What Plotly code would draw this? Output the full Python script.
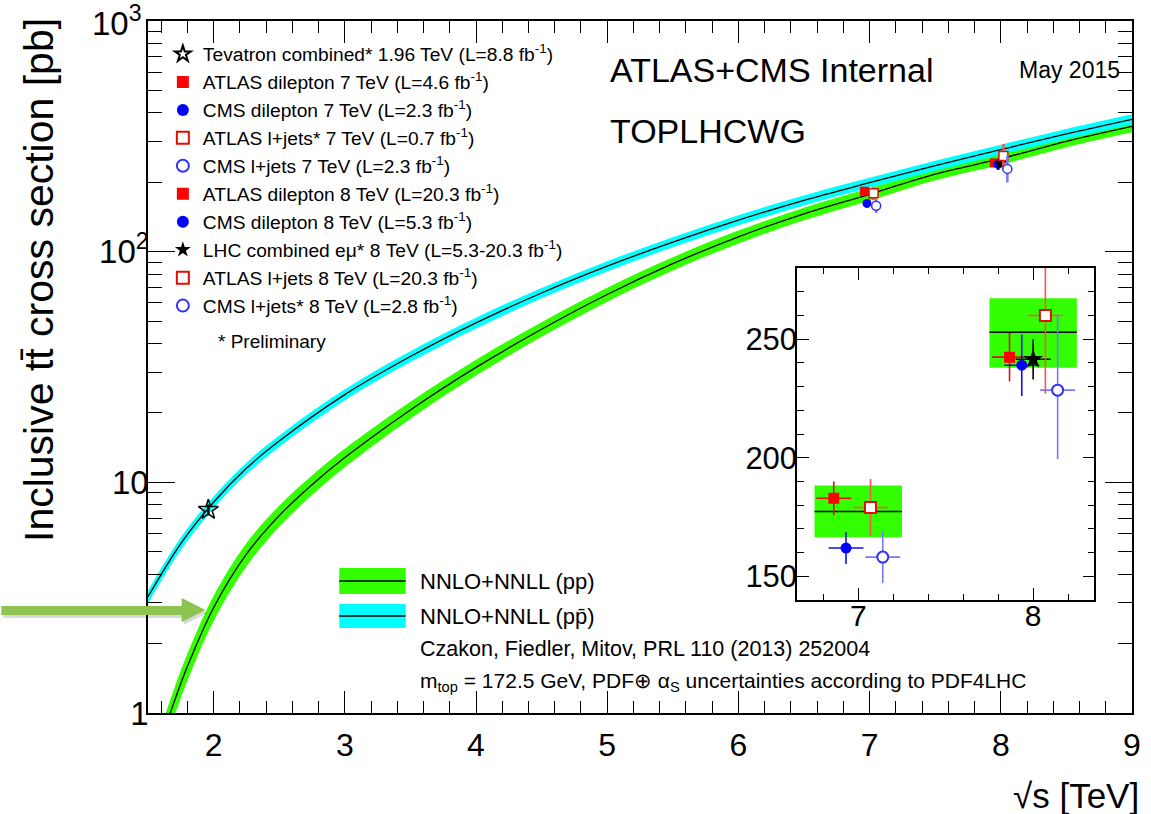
import plotly.graph_objects as go

FONT = "Liberation Sans, Arial, Helvetica, sans-serif"

# ---------------- NNLO+NNLL theory predictions (pb) ----------------
pp_sqrt_s = [1.6, 1.7, 1.8, 2.0, 2.25, 2.5, 2.75, 3.0, 3.5, 4.0, 4.5, 5.0, 5.5, 6.0, 6.5, 7.0, 7.5, 8.0, 8.5, 9.0]
pp_xsec = [0.76, 1.12, 1.59, 2.86, 4.88, 7.17, 9.76, 12.8, 20.6, 31.5, 46.1, 65.2, 88.7, 116.0, 146.0, 177.3, 217.0, 252.9, 301.0, 349.0]
pp_unc_pct = [15.0, 14.0, 13.5, 12.5, 11.5, 10.5, 9.8, 9.2, 8.4, 7.8, 7.3, 6.9, 6.6, 6.4, 6.3, 6.2, 6.0, 5.8, 5.7, 5.6]

ppbar_sqrt_s = [1.5, 1.75, 2.0, 2.25, 2.5, 3.0, 3.5, 4.0, 4.5, 5.0, 5.5, 6.0, 6.5, 7.0, 7.5, 8.0, 8.5, 9.0]
ppbar_xsec = [3.19, 5.43, 8.20, 11.5, 15.1, 24.0, 35.1, 49.1, 66.2, 86.5, 110.0, 137.0, 167.0, 199.0, 236.0, 277.0, 324.0, 375.0]
ppbar_unc_pct = [6.5, 6.3, 6.0, 5.8, 5.7, 5.5, 5.4, 5.3, 5.2, 5.1, 5.0, 5.0, 5.0, 5.0, 5.0, 5.0, 5.0, 5.0]

# theory boxes shown in the zoomed panel
inset_theory_sqrt_s = [7.0, 8.0]
inset_theory_xsec = [177.3, 252.9]
inset_theory_up = [188.3, 267.2]
inset_theory_down = [166.5, 237.9]

# ---------------- measurements ----------------
meas_labels = [
    "Tevatron combined* 1.96 TeV (L=8.8 fb<sup>-1</sup>)",
    "ATLAS dilepton 7 TeV (L=4.6 fb<sup>-1</sup>)",
    "CMS dilepton 7 TeV (L=2.3 fb<sup>-1</sup>)",
    "ATLAS l+jets* 7 TeV (L=0.7 fb<sup>-1</sup>)",
    "CMS l+jets 7 TeV (L=2.3 fb<sup>-1</sup>)",
    "ATLAS dilepton 8 TeV (L=20.3 fb<sup>-1</sup>)",
    "CMS dilepton 8 TeV (L=5.3 fb<sup>-1</sup>)",
    "LHC combined eμ* 8 TeV (L=5.3-20.3 fb<sup>-1</sup>)",
    "ATLAS l+jets 8 TeV (L=20.3 fb<sup>-1</sup>)",
    "CMS l+jets* 8 TeV (L=2.8 fb<sup>-1</sup>)",
]
meas_sqrt_s = [1.96, 7, 7, 7, 7, 8, 8, 8, 8, 8]
meas_xsec = [7.60, 182.9, 161.9, 179.0, 158.1, 242.4, 239.0, 241.5, 260.0, 228.5]
meas_err_up = [0.41, 7.1, 6.7, 12.0, 11.0, 10.3, 13.0, 8.5, 33.0, 32.0]
meas_err_down = [0.41, 7.1, 6.7, 12.0, 11.0, 10.3, 13.0, 8.5, 33.0, 29.0]

# staggered drawing positions around the nominal energies
main_x = [1.96, 6.96, 6.98, 7.03, 7.05, 7.95, 7.98, 8.00, 8.02, 8.05]
inset_x = [None, 6.86, 6.93, 7.07, 7.14, 7.865, 7.935, 8.00, 8.07, 8.14]

# marker styles
symbols = ["star-open", "square", "circle", "square", "circle",
           "square", "circle", "star", "square", "circle"]
marker_colors = ["black", "#ff0000", "#0000ff", "#dd1100", "#3030ff",
                 "#ff0000", "#0000ff", "black", "#dd1100", "#3030ff"]
hollow = [False, False, False, True, True, False, False, False, True, True]
error_colors = ["black", "#e01010", "#1010e0", "#ff5050", "#7878ff",
                "#e01010", "#1010e0", "black", "#ff5050", "#7878ff"]

# y-axis decade labels
y_tickvals = [1, 10, 100, 1000]
y_ticktext = ["1", "10", "10<sup>2</sup>", "10<sup>3</sup>"]

GREEN = "#33ff00"
CYAN = "#00ffff"

# plot-area geometry (pixels) used for decorations placed in paper space
W, H = 1151, 814
ML, MR, MT, MB = 148, 10, 21, 101
PW, PH = W - ML - MR, H - MT - MB


def px(xp):
    return (xp - ML) / PW


def py(yp):
    return 1 - (yp - MT) / PH


fig = go.Figure()


def add_band(xs, ys, pct, color):
    lo = [v * (1 - p / 100) for v, p in zip(ys, pct)]
    hi = [v * (1 + p / 100) for v, p in zip(ys, pct)]
    fig.add_trace(go.Scatter(x=xs, y=lo, mode="lines", line=dict(width=0, shape="spline", color=color),
                             showlegend=False, hoverinfo="skip"))
    fig.add_trace(go.Scatter(x=xs, y=hi, mode="lines", line=dict(width=0, shape="spline", color=color),
                             fill="tonexty", fillcolor=color, showlegend=False, hoverinfo="skip"))


add_band(pp_sqrt_s, pp_xsec, pp_unc_pct, GREEN)
add_band(ppbar_sqrt_s, ppbar_xsec, ppbar_unc_pct, CYAN)
fig.add_trace(go.Scatter(x=pp_sqrt_s, y=pp_xsec, mode="lines",
                         line=dict(color="black", width=1.3, shape="spline"), showlegend=False))
fig.add_trace(go.Scatter(x=ppbar_sqrt_s, y=ppbar_xsec, mode="lines",
                         line=dict(color="black", width=1.3, shape="spline"), showlegend=False))

# theory boxes in the zoomed panel
for e, c, u, d in zip(inset_theory_sqrt_s, inset_theory_xsec, inset_theory_up, inset_theory_down):
    hw = 0.25
    fig.add_trace(go.Scatter(x=[e - hw, e + hw, e + hw, e - hw, e - hw], y=[d, d, u, u, d],
                             mode="lines", fill="toself", fillcolor=GREEN, line=dict(width=0),
                             xaxis="x2", yaxis="y2", showlegend=False, hoverinfo="skip"))
    fig.add_trace(go.Scatter(x=[e - hw, e + hw], y=[c, c], mode="lines",
                             line=dict(color="black", width=1.5),
                             xaxis="x2", yaxis="y2", showlegend=False, hoverinfo="skip"))


def marker_style(i, size, lw):
    if symbols[i].endswith("open"):
        return dict(symbol=symbols[i], size=size, color=marker_colors[i], line=dict(width=1.5))
    if hollow[i]:
        return dict(symbol=symbols[i], size=size, color="white",
                    line=dict(color=marker_colors[i], width=lw))
    return dict(symbol=symbols[i], size=size, color=marker_colors[i], line=dict(width=0))


# measurements
for i in range(len(meas_labels)):
    star = symbols[i].startswith("star")
    # main panel
    fig.add_trace(go.Scatter(
        x=[main_x[i]], y=[meas_xsec[i]], mode="markers",
        marker=marker_style(i, 15 if i == 0 else (11 if star else 9), 1.5),
        error_y=dict(type="data", symmetric=False, array=[meas_err_up[i]], arrayminus=[meas_err_down[i]],
                     color=error_colors[i], thickness=2.5, width=0),
        name=meas_labels[i], legendrank=i + 1, showlegend=(i == 0),
    ))
    if inset_x[i] is None:
        continue
    # zoomed panel
    fig.add_trace(go.Scatter(
        x=[inset_x[i]], y=[meas_xsec[i]], mode="markers",
        marker=marker_style(i, 15 if star else 11, 2),
        error_y=dict(type="data", symmetric=False, array=[meas_err_up[i]], arrayminus=[meas_err_down[i]],
                     color=error_colors[i], thickness=1.6, width=0),
        error_x=dict(type="constant", value=0.1, color=error_colors[i], thickness=1.6, width=0),
        xaxis="x2", yaxis="y2",
        name=meas_labels[i], legendrank=i + 1, showlegend=True,
    ))

minor_x = [round(1.6 + 0.2 * k, 1) for k in range(38)]
minor_x = [v for v in minor_x if v <= 9 and abs(v - round(v)) > 1e-6]
minor_y = [m * 10 ** d for d in range(3) for m in range(2, 10)]

axis_common = dict(showline=True, linecolor="black", linewidth=1.5, mirror="ticks",
                   ticks="inside", tickcolor="black", tickwidth=1, showgrid=False, zeroline=False)

fig.update_layout(
    width=W, height=H,
    margin=dict(l=ML, r=MR, t=MT, b=MB),
    paper_bgcolor="white", plot_bgcolor="white",
    font=dict(family=FONT, color="black"),
    xaxis=dict(range=[1.5, 9], tickmode="array", tickvals=[2, 3, 4, 5, 6, 7, 8, 9], ticklen=22,
               tickfont=dict(size=32), ticklabelstandoff=3,
               minor=dict(tickmode="array", tickvals=minor_x, ticks="inside", ticklen=12,
                          tickcolor="black", tickwidth=1, showgrid=False),
               **axis_common),
    # the top decade label is placed as an annotation (edge labels can be dropped by the axis)
    yaxis=dict(type="log", range=[0, 3], tickmode="array", tickvals=y_tickvals,
               ticktext=y_ticktext[:-1] + [""], ticklen=27,
               tickfont=dict(size=33), ticklabelstandoff=-9,
               minor=dict(tickmode="array", tickvals=minor_y, ticks="inside", ticklen=14,
                          tickcolor="black", tickwidth=1, showgrid=False),
               **axis_common),
    xaxis2=dict(domain=[px(803), px(1103)], anchor="y2", range=[6.65, 8.35], tickmode="array",
                tickvals=[7, 8], ticklen=12, tickfont=dict(size=30), ticklabelstandoff=-12,
                minor=dict(tickmode="array", tickvals=[6.8, 7.2, 7.4, 7.6, 7.8, 8.2], ticks="inside",
                           ticklen=6, tickcolor="black", tickwidth=1, showgrid=False),
                **axis_common),
    yaxis2=dict(domain=[py(600), py(268)], anchor="x2", range=[140, 280], tickmode="array",
                tickvals=[150, 200, 250], ticklen=12, tickfont=dict(size=31), ticklabelstandoff=-8,
                minor=dict(tickmode="array", tickvals=[160, 170, 180, 190, 210, 220, 230, 240, 260, 270],
                           ticks="inside", ticklen=7, tickcolor="black", tickwidth=1, showgrid=False),
                **axis_common),
    legend=dict(x=px(163), y=py(35), xanchor="left", yanchor="top", bgcolor="rgba(0,0,0,0)",
                font=dict(size=19.2, family=FONT), itemsizing="constant", traceorder="normal"),
    showlegend=True,
)

annotations = [
    dict(text=y_ticktext[-1], x=px(144), xref="paper", y=3, yref="y",
         xanchor="right", yanchor="middle", font=dict(size=33)),
    dict(text="Inclusive tt̄ cross section [pb]", x=px(38), y=py(16), textangle=-90,
         xanchor="center", yanchor="top", font=dict(size=41)),
    dict(text="√s [TeV]", x=px(1150), y=py(795), xanchor="right", yanchor="middle", font=dict(size=35)),
    dict(text="ATLAS+CMS Internal", x=px(612), y=py(70), xanchor="left", yanchor="middle", font=dict(size=34)),
    dict(text="TOPLHCWG", x=px(612), y=py(131), xanchor="left", yanchor="middle", font=dict(size=34)),
    dict(text="May 2015", x=px(1131), y=py(70), xanchor="right", yanchor="middle", font=dict(size=23)),
    dict(text="* Preliminary", x=px(217), y=py(341), xanchor="left", yanchor="middle", font=dict(size=19)),
    dict(text="NNLO+NNLL (pp)", x=px(420), y=py(581), xanchor="left", yanchor="middle", font=dict(size=22)),
    dict(text="NNLO+NNLL (pp̄)", x=px(420), y=py(616), xanchor="left", yanchor="middle", font=dict(size=22)),
    dict(text="Czakon, Fiedler, Mitov, PRL 110 (2013) 252004", x=px(420), y=py(649),
         xanchor="left", yanchor="middle", font=dict(size=21.5)),
    dict(text="m<sub>top</sub> = 172.5 GeV, PDF⊕ α<sub>S</sub> uncertainties according to PDF4LHC",
         x=px(420), y=py(682), xanchor="left", yanchor="middle", font=dict(size=21)),
]
for a in annotations:
    a.setdefault("xref", "paper")
    a.setdefault("yref", "paper")
    a["showarrow"] = False
fig.update_layout(annotations=annotations)


def poly(points):
    return "M " + " L ".join(f"{px(a):.5f},{py(b):.5f}" for a, b in points) + " Z"


arrow_pts = [(0, 606), (182, 606), (182, 598), (206, 610), (182, 622), (182, 615), (0, 615)]
shadow_pts = [(a + 2, b + 3) for a, b in arrow_pts]

shapes = [
    # theory legend swatches
    dict(type="rect", x0=px(341), x1=px(408), y0=py(594), y1=py(568), fillcolor=GREEN, line=dict(width=0)),
    dict(type="line", x0=px(341), x1=px(408), y0=py(581), y1=py(581), line=dict(color="black", width=1.5)),
    dict(type="rect", x0=px(341), x1=px(408), y0=py(628), y1=py(604), fillcolor=CYAN, line=dict(width=0)),
    dict(type="line", x0=px(341), x1=px(408), y0=py(616), y1=py(616), line=dict(color="black", width=1.5)),
    # pointer arrow
    dict(type="path", path=poly(shadow_pts), fillcolor="rgba(0,0,0,0.15)", line=dict(width=0)),
    dict(type="path", path=poly(arrow_pts), fillcolor="#8dc351", line=dict(width=0)),
]
for s in shapes:
    s.update(xref="paper", yref="paper")
fig.update_layout(shapes=shapes)

fig.write_html("out.html")
